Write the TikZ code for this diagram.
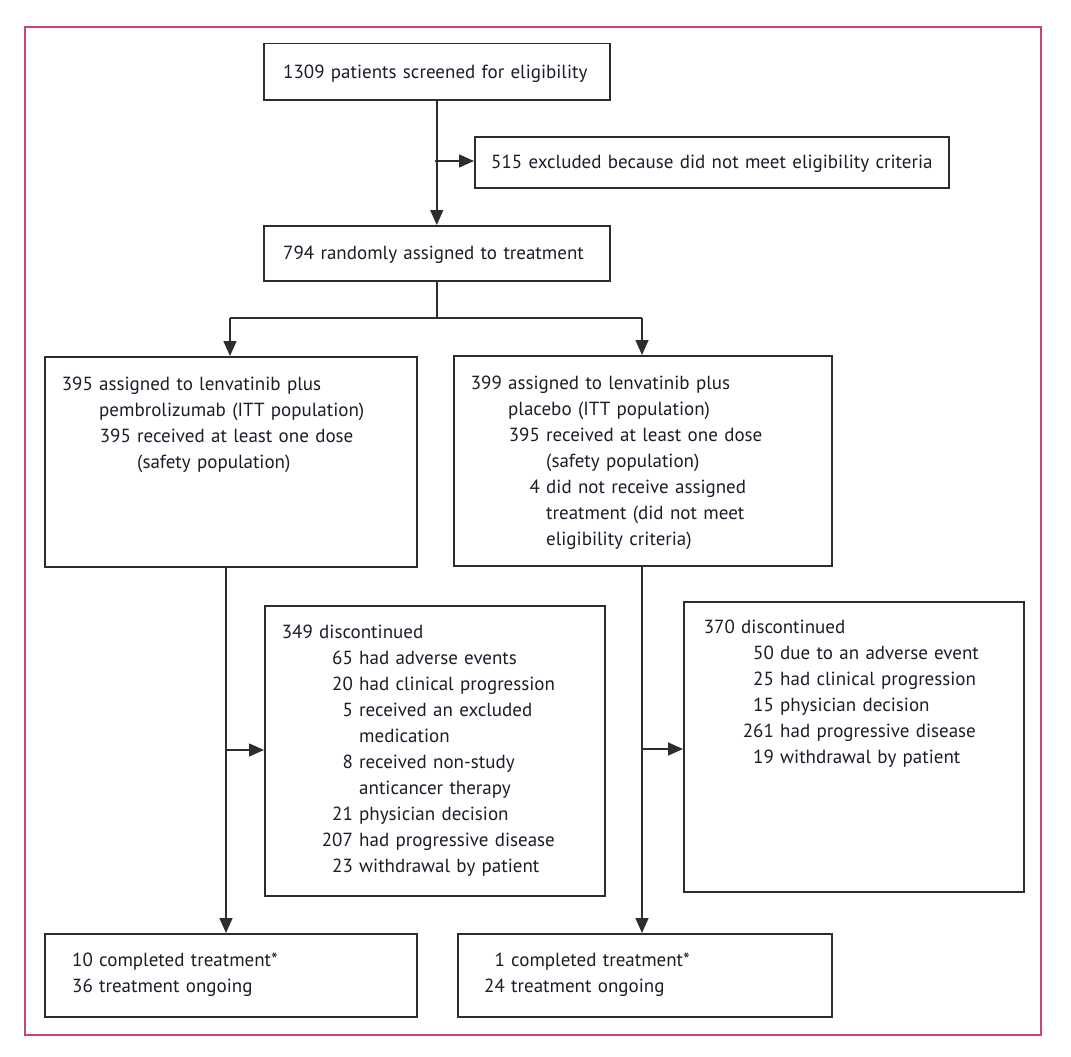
\documentclass[tikz,border=0pt]{standalone}
\usepackage{fontspec}
\setmainfont{PT Sans}
\usetikzlibrary{arrows.meta}
\definecolor{framecol}{RGB}{200,72,108}
\definecolor{ink}{RGB}{28,28,42}
\definecolor{edgecol}{RGB}{45,45,45}
\setlength{\parindent}{0pt}
\newcommand\ent[3]{\hspace*{#1pt}\llap{#2\ }#3}
\begin{document}
\begin{tikzpicture}[x=1pt,y=-1pt,
  box/.style={draw=edgecol, line width=1.5pt, rectangle, anchor=north west, inner sep=0},
  txt/.style={anchor=base west, inner sep=0, text width=600pt, align=left,
    font=\fontsize{19}{26}\selectfont, text=ink},
  arr/.style={draw=edgecol, line width=1.5pt, -{Triangle[length=15pt,width=13pt]}},
  ln/.style={draw=edgecol, line width=1.5pt}]
\useasboundingbox (0,0) rectangle (1071,1057);
\draw[framecol, line width=1.5pt] (25,27) rectangle (1041,1035);

% boxes
\node[box, minimum width=346pt, minimum height=56pt] (screen) at (263,43) {};
\node[box, minimum width=474pt, minimum height=51pt] (excl) at (474,136) {};
\node[box, minimum width=346pt, minimum height=55pt] (rand) at (263,225) {};
\node[box, minimum width=372pt, minimum height=210pt] (arm1) at (44,356) {};
\node[box, minimum width=378pt, minimum height=210pt] (arm2) at (453,355) {};
\node[box, minimum width=340pt, minimum height=290pt] (disc1) at (264,605) {};
\node[box, minimum width=340pt, minimum height=290pt] (disc2) at (683,601) {};
\node[box, minimum width=372pt, minimum height=83pt] (done1) at (44,933) {};
\node[box, minimum width=374pt, minimum height=83pt] (done2) at (457,933) {};

% texts
\node[txt] (screent) at (283,78) {1309 patients screened for eligibility};
\node[txt] (exclt) at (491,168) {515 excluded because did not meet eligibility criteria};
\node[txt] (randt) at (283,259) {794 randomly assigned to treatment};
\node[txt] (arm1t) at (44,390) {%
\ent{55}{395}{assigned to lenvatinib plus}\\
\ent{55}{}{pembrolizumab (ITT population)}\\
\ent{93}{395}{received at least one dose}\\
\ent{93}{}{(safety population)}};
\node[txt] (arm2t) at (453,389) {%
\ent{55}{399}{assigned to lenvatinib plus}\\
\ent{55}{}{placebo (ITT population)}\\
\ent{93}{395}{received at least one dose}\\
\ent{93}{}{(safety population)}\\
\ent{93}{4}{did not receive assigned}\\
\ent{93}{}{treatment (did not meet}\\
\ent{93}{}{eligibility criteria)}};
\node[txt] (disc1t) at (264,638) {%
\ent{55}{349}{discontinued}\\
\ent{95}{65}{had adverse events}\\
\ent{95}{20}{had clinical progression}\\
\ent{95}{5}{received an excluded}\\
\ent{95}{}{medication}\\
\ent{95}{8}{received non-study}\\
\ent{95}{}{anticancer therapy}\\
\ent{95}{21}{physician decision}\\
\ent{95}{207}{had progressive disease}\\
\ent{95}{23}{withdrawal by patient}};
\node[txt] (disc2t) at (683,633) {%
\ent{58}{370}{discontinued}\\
\ent{97}{50}{due to an adverse event}\\
\ent{97}{25}{had clinical progression}\\
\ent{97}{15}{physician decision}\\
\ent{97}{261}{had progressive disease}\\
\ent{97}{19}{withdrawal by patient}};
\node[txt] (done1t) at (44,966) {%
\ent{55}{10}{completed treatment*}\\
\ent{55}{36}{treatment ongoing}};
\node[txt] (done2t) at (457,966) {%
\ent{54}{1}{completed treatment*}\\
\ent{54}{24}{treatment ongoing}};

% connectors
\draw[arr] (screen.south) -- (rand.north);
\coordinate (j1) at (435,161);
\draw[arr] (j1) -- (j1 -| excl.west);
\coordinate (sc) at (435,318);
\coordinate (sl) at (230,318);
\coordinate (sr) at (642,318);
\draw[ln] (rand.south) -- (rand.south |- sc);
\draw[ln] (sl) -- (sr);
\draw[arr] (sl) -- (sl |- arm1.north);
\draw[arr] (sr) -- (sr |- arm2.north);
\coordinate (l1) at (226,566);
\coordinate (l2) at (226,750);
\draw[arr] (l1) -- (l1 |- done1.north);
\draw[arr] (l2) -- (l2 -| disc1.west);
\coordinate (r1) at (642,565);
\coordinate (r2) at (642,749);
\draw[arr] (r1) -- (r1 |- done2.north);
\draw[arr] (r2) -- (r2 -| disc2.west);
\end{tikzpicture}
\end{document}
